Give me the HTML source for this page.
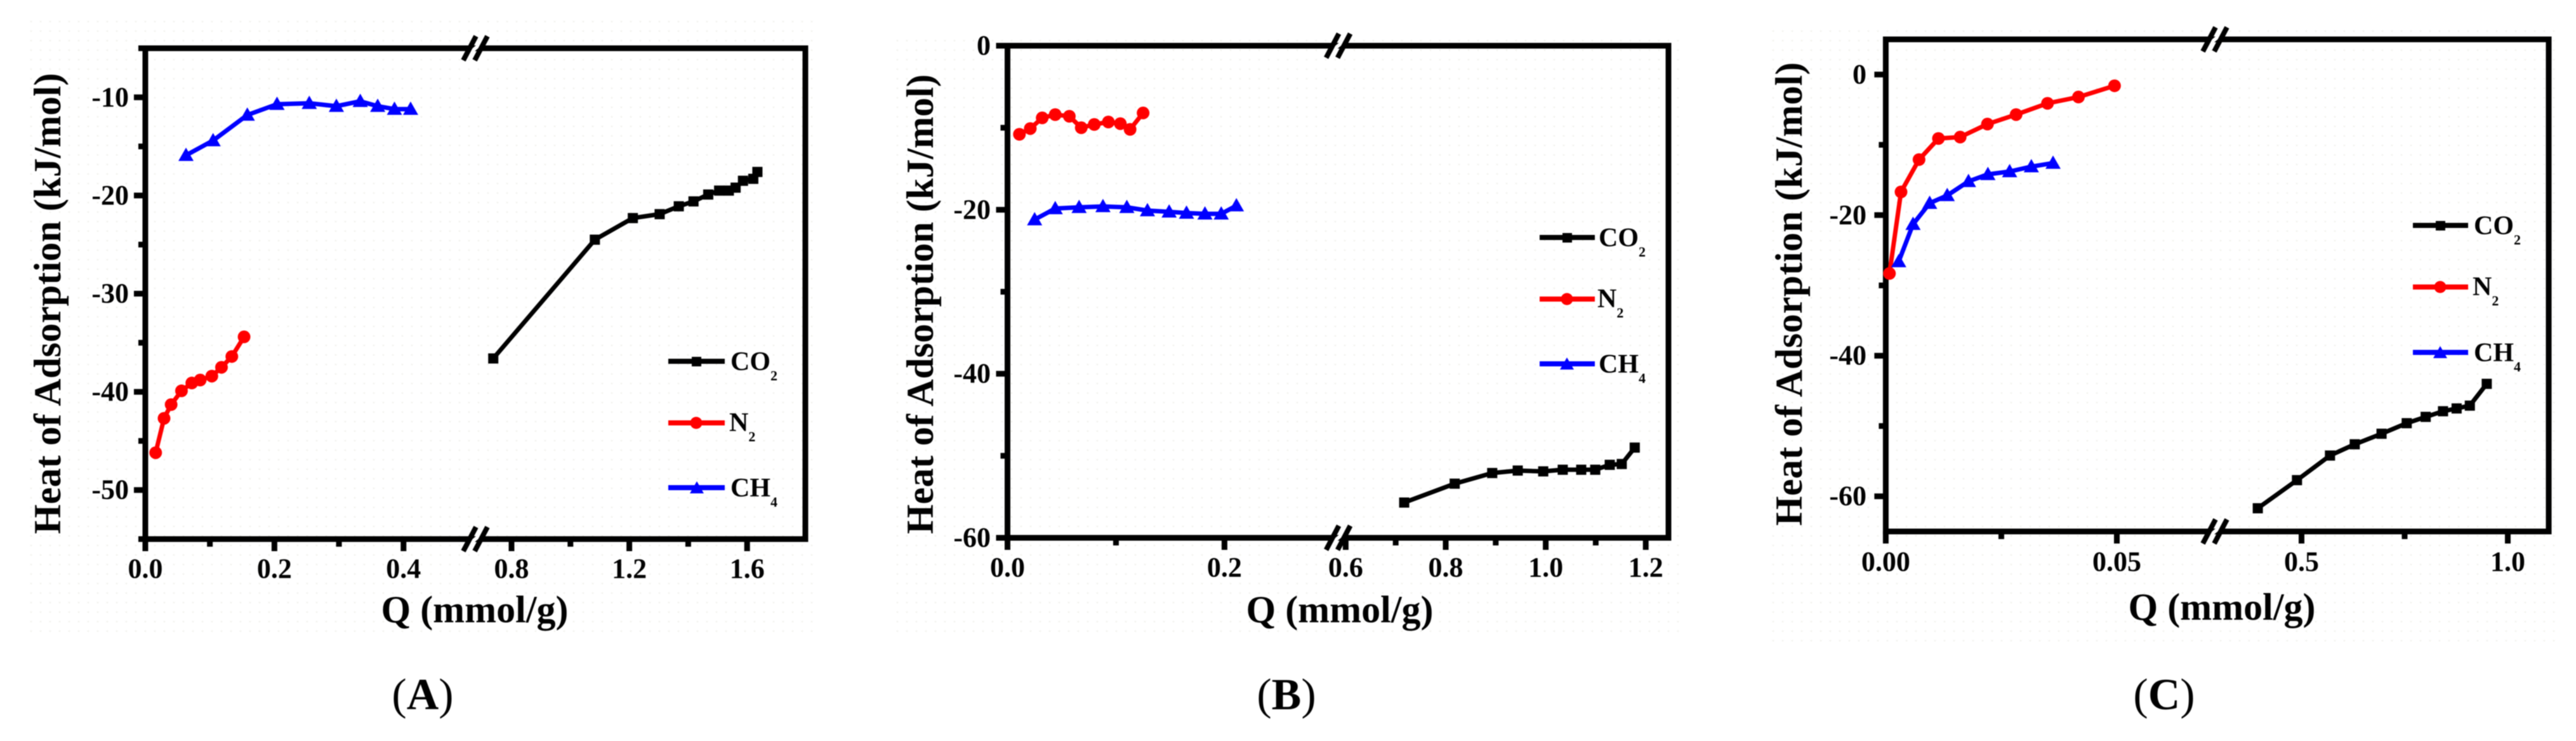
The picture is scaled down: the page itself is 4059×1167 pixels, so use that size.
<!DOCTYPE html>
<html lang="en">
<head>
<meta charset="utf-8">
<title>Heat of adsorption charts</title>
<style>
html,body{margin:0;padding:0;background:#fff;width:4059px;height:1167px;overflow:hidden}
svg{display:block;filter:blur(.7px)}
text{font-family:"Liberation Serif",serif;fill:#000}
.b{font-weight:bold}
.t{font-size:60px;font-weight:bold}
.l{font-size:42px;font-weight:bold}
.s{font-size:22px;font-weight:bold}
.c{font-size:70px}
</style>
</head>
<body>
<svg id="figure" xmlns="http://www.w3.org/2000/svg" width="4059" height="1167" viewBox="0 0 4059 1167">
<defs>
<pattern id="dots" width="15" height="15" patternUnits="userSpaceOnUse"><circle cx="4" cy="4" r="1.3" fill="#f1f1ec"/></pattern>
</defs>
<rect x="43" y="30" width="1247" height="968" fill="url(#dots)"/>
<rect x="1405" y="52" width="1245" height="946" fill="url(#dots)"/>
<rect x="2789" y="41" width="1244" height="972" fill="url(#dots)"/>

<g id="panel-a"></g>
<g id="panel-b"></g>
<g id="panel-c"></g>

<text class="t" transform="translate(95 841) rotate(-90)" textLength="726" lengthAdjust="spacing">Heat of Adsorption (kJ/mol)</text>
<text class="t" x="748" y="980" text-anchor="middle">Q (mmol/g)</text>
<text class="c" x="666" y="1117" text-anchor="middle">(<tspan class="b">A</tspan>)</text>

<text class="t" transform="translate(1470 841) rotate(-90)" textLength="724" lengthAdjust="spacing">Heat of Adsorption (kJ/mol)</text>
<text class="t" x="2111" y="980" text-anchor="middle">Q (mmol/g)</text>
<text class="c" x="2027" y="1117" text-anchor="middle">(<tspan class="b">B</tspan>)</text>

<text class="t" transform="translate(2839 828) rotate(-90)" textLength="730" lengthAdjust="spacing">Heat of Adsorption (kJ/mol)</text>
<text class="t" x="3501" y="976" text-anchor="middle">Q (mmol/g)</text>
<text class="c" x="3410" y="1117" text-anchor="middle">(<tspan class="b">C</tspan>)</text>

<g>
  <g>
    <line x1="1053" x2="1142" y1="569" y2="569" stroke="#000" stroke-width="8"/><rect x="1090" y="562" width="15" height="15" fill="#000"/>
    <text class="l" x="1151" y="583">CO<tspan class="s" dy="16">2</tspan></text>
  </g>
  <g>
    <line x1="1053" x2="1142" y1="666" y2="666" stroke="#f00" stroke-width="8"/><circle cx="1097" cy="666" r="9.5" fill="#f00"/>
    <text class="l" x="1149" y="679">N<tspan class="s" dy="16">2</tspan></text>
  </g>
  <g>
    <line x1="1053" x2="1142" y1="768" y2="768" stroke="#00f" stroke-width="8"/><polygon points="1098,758 1109,777 1087,777" fill="#00f"/>
    <text class="l" x="1151" y="782">CH<tspan class="s" dy="16">4</tspan></text>
  </g>
</g>
<g>
  <g>
    <line x1="2426" x2="2513" y1="374" y2="374" stroke="#000" stroke-width="8"/><rect x="2462" y="367" width="15" height="15" fill="#000"/>
    <text class="l" x="2519" y="388">CO<tspan class="s" dy="16">2</tspan></text>
  </g>
  <g>
    <line x1="2426" x2="2513" y1="471" y2="471" stroke="#f00" stroke-width="8"/><circle cx="2469" cy="471" r="9.5" fill="#f00"/>
    <text class="l" x="2517" y="484">N<tspan class="s" dy="16">2</tspan></text>
  </g>
  <g>
    <line x1="2426" x2="2513" y1="573" y2="573" stroke="#00f" stroke-width="8"/><polygon points="2469,563 2480,582 2458,582" fill="#00f"/>
    <text class="l" x="2519" y="587">CH<tspan class="s" dy="16">4</tspan></text>
  </g>
</g>
<g>
  <g>
    <line x1="3802" x2="3889" y1="355" y2="355" stroke="#000" stroke-width="8"/><rect x="3838" y="348" width="15" height="15" fill="#000"/>
    <text class="l" x="3898" y="369">CO<tspan class="s" dy="16">2</tspan></text>
  </g>
  <g>
    <line x1="3802" x2="3889" y1="452" y2="452" stroke="#f00" stroke-width="8"/><circle cx="3845" cy="452" r="9.5" fill="#f00"/>
    <text class="l" x="3896" y="465">N<tspan class="s" dy="16">2</tspan></text>
  </g>
  <g>
    <line x1="3802" x2="3889" y1="555" y2="555" stroke="#00f" stroke-width="8"/><polygon points="3845,545 3856,564 3834,564" fill="#00f"/>
    <text class="l" x="3898" y="569">CH<tspan class="s" dy="16">4</tspan></text>
  </g>
</g>
</svg>

<script>
// Panel A data
const aCo2Q = [0.738,1.083,1.212,1.303,1.368,1.418,1.468,1.505,1.538,1.561,1.586,1.621,1.635];
const aCo2Heat = [-36.6,-24.5,-22.3,-21.9,-21.1,-20.6,-19.9,-19.5,-19.5,-19.2,-18.5,-18.3,-17.6];
const aN2Q = [0.016,0.029,0.040,0.056,0.072,0.085,0.103,0.118,0.134,0.153];
const aN2Heat = [-46.2,-42.7,-41.3,-39.9,-39.1,-38.8,-38.4,-37.5,-36.4,-34.4];
const aCh4Q = [0.063,0.105,0.158,0.204,0.254,0.296,0.333,0.360,0.386,0.411];
const aCh4Heat = [-15.9,-14.4,-11.8,-10.7,-10.6,-10.9,-10.4,-10.9,-11.2,-11.2];
const aXMajor = [0,0.2,0.4,0.8,1.2,1.6];
const aXMajorLabels = ["0.0","0.2","0.4","0.8","1.2","1.6"];
const aXMinor = [0.1,0.3,1.0,1.4];
const aYMajor = [-10,-20,-30,-40,-50];
const aYMajorLabels = ["-10","-20","-30","-40","-50"];
const aYMinor = [-5,-15,-25,-35,-45,-55];

// Panel B data
const bCo2Q = [0.717,0.818,0.893,0.944,0.995,1.034,1.071,1.099,1.128,1.152,1.178];
const bCo2Heat = [-55.7,-53.4,-52.1,-51.8,-51.9,-51.7,-51.7,-51.7,-51.1,-51.0,-49.0];
const bN2Q = [0.011,0.021,0.032,0.044,0.057,0.068,0.080,0.093,0.104,0.113,0.125];
const bN2Heat = [-10.8,-10.1,-8.8,-8.4,-8.6,-10.0,-9.6,-9.3,-9.5,-10.2,-8.2];
const bCh4Q = [0.025,0.044,0.066,0.088,0.110,0.129,0.149,0.165,0.182,0.197,0.211];
const bCh4Heat = [-21.2,-19.85,-19.7,-19.6,-19.7,-20.1,-20.25,-20.4,-20.5,-20.5,-19.5];
const bXMajor = [0,0.2,0.6,0.8,1.0,1.2];
const bXMajorLabels = ["0.0","0.2","0.6","0.8","1.0","1.2"];
const bXMinor = [0.1,0.7,0.9,1.1];
const bYMajor = [0,-20,-40,-60];
const bYMajorLabels = ["0","-20","-40","-60"];
const bYMinor = [-10,-30,-50];

// Panel C data
const cCo2Q = [0.394,0.489,0.569,0.629,0.694,0.755,0.801,0.843,0.876,0.908,0.949];
const cCo2Heat = [-61.7,-57.7,-54.2,-52.6,-51.1,-49.6,-48.7,-47.9,-47.5,-47.1,-44.0];
const cN2Q = [0.0008,0.0033,0.0072,0.0114,0.0161,0.0220,0.0282,0.0350,0.0417,0.0495];
const cN2Heat = [-28.3,-16.7,-12.1,-9.1,-8.9,-7.05,-5.7,-4.1,-3.2,-1.6];
const cCh4Q = [0.0028,0.0059,0.0095,0.0133,0.0179,0.0221,0.0268,0.0315,0.0362];
const cCh4Heat = [-26.6,-21.3,-18.3,-17.2,-15.2,-14.2,-13.8,-13.1,-12.6];
const cXMajor = [0,0.05,0.5,1.0];
const cXMajorLabels = ["0.00","0.05","0.5","1.0"];
const cXMinor = [0.025,0.75];
const cYMajor = [0,-20,-40,-60];
const cYMajorLabels = ["0","-20","-40","-60"];
const cYMinor = [-10,-30,-50];

const NS = "http://www.w3.org/2000/svg";

function make(parent, tag, attrs) {
  const node = document.createElementNS(NS, tag);
  for (const key in attrs) node.setAttribute(key, attrs[key]);
  parent.appendChild(node);
  return node;
}

function xAxisFn(g) {
  return function (q) {
    if (q < g.split) return g.left + q * g.kLeft;
    return g.anchorX + (q - g.anchorQ) * g.kRight;
  };
}

function yAxisFn(g) {
  return function (v) {
    return g.bottom - (v - g.yMin) * (g.bottom - g.top) / (g.yMax - g.yMin);
  };
}

function drawFrame(root, g, prefix) {
  const frame = make(root, "rect", {x: g.left, y: g.top, width: g.right - g.left, height: g.bottom - g.top, fill: "none", stroke: "#000", "stroke-width": 9});
  
  
  [g.top, g.bottom].forEach(function (yy) {
    const gap = make(root, "polygon", {points: (g.breakX + 4) + "," + (yy - 7) + " " + (g.breakX + 13) + "," + (yy - 7) + " " + (g.breakX - 4) + "," + (yy + 7) + " " + (g.breakX - 13) + "," + (yy + 7), fill: "#fff"});
    
    
    [-9, 9].forEach(function (off) {
      const slash = make(root, "line", {x1: g.breakX + off + 10, y1: yy - 19, x2: g.breakX + off - 10, y2: yy + 19, stroke: "#000", "stroke-width": 8});
      
      
    });
  });
}

function drawTicks(root, g, prefix, xOf, yOf, xMajor, xLabels, xMinor, yMajor, yLabels, yMinor) {
  xMajor.forEach(function (q, i) {
    const tick = make(root, "line", {x1: xOf(q), x2: xOf(q), y1: g.bottom, y2: g.bottom + 19, stroke: "#000", "stroke-width": 9});
    
    
    const label = make(root, "text", {x: xOf(q) + (g.labelShift || 0), y: g.xLabelY, "text-anchor": "middle", "font-size": 44, "font-weight": "bold"});
    label.textContent = xLabels[i];
    
    
  });
  xMinor.forEach(function (q) {
    const tick = make(root, "line", {x1: xOf(q), x2: xOf(q), y1: g.bottom, y2: g.bottom + 12, stroke: "#000", "stroke-width": 9});
    
    
  });
  yMajor.forEach(function (v, i) {
    const tick = make(root, "line", {x1: g.left - 18, x2: g.left, y1: yOf(v), y2: yOf(v), stroke: "#000", "stroke-width": 9});
    
    
    const label = make(root, "text", {x: g.yLabelX, y: yOf(v) + 14, "text-anchor": "end", "font-size": 44, "font-weight": "bold"});
    label.textContent = yLabels[i];
    
    
  });
  yMinor.forEach(function (v) {
    const tick = make(root, "line", {x1: g.left - 11, x2: g.left, y1: yOf(v), y2: yOf(v), stroke: "#000", "stroke-width": 9});
    
    
  });
}

function drawSeries(root, prefix, seriesName, color, shape, qs, heats, xOf, yOf) {
  const pts = qs.map(function (q, i) { return xOf(q) + "," + yOf(heats[i]); }).join(" ");
  const line = make(root, "polyline", {points: pts, fill: "none", stroke: color, "stroke-width": 7, "stroke-linejoin": "round"});
  
  
  qs.forEach(function (q, i) {
    const px = xOf(q), py = yOf(heats[i]);
    let mark;
    if (shape === "square") {
      mark = make(root, "rect", {x: px - 8, y: py - 8, width: 16, height: 16, fill: color});
    } else if (shape === "circle") {
      mark = make(root, "circle", {cx: px, cy: py, r: 10, fill: color});
    } else {
      mark = make(root, "polygon", {points: px + "," + (py - 12) + " " + (px + 12) + "," + (py + 9) + " " + (px - 12) + "," + (py + 9), fill: color});
    }
    
    
  });
}

function drawPanel(id, prefix, g, d) {
  const root = document.getElementById(id);
  const xOf = xAxisFn(g);
  const yOf = yAxisFn(g);
  drawFrame(root, g, prefix);
  drawTicks(root, g, prefix, xOf, yOf, d.xMajor, d.xLabels, d.xMinor, d.yMajor, d.yLabels, d.yMinor);
  drawSeries(root, prefix, "co2", "#000", "square", d.co2Q, d.co2Heat, xOf, yOf);
  drawSeries(root, prefix, "n2", "#f00", "circle", d.n2Q, d.n2Heat, xOf, yOf);
  drawSeries(root, prefix, "ch4", "#00f", "triangle", d.ch4Q, d.ch4Heat, xOf, yOf);
}

drawPanel("panel-a", "panel-a",
  {left: 229, right: 1269, top: 76, bottom: 849, yMin: -55, yMax: -5, split: 0.6, kLeft: 1017, anchorX: 806, anchorQ: 0.8, kRight: 464, breakX: 749, xLabelY: 910, yLabelX: 203},
  {xMajor: aXMajor, xLabels: aXMajorLabels, xMinor: aXMinor, yMajor: aYMajor, yLabels: aYMajorLabels, yMinor: aYMinor,
   co2Q: aCo2Q, co2Heat: aCo2Heat, n2Q: aN2Q, n2Heat: aN2Heat, ch4Q: aCh4Q, ch4Heat: aCh4Heat});

drawPanel("panel-b", "panel-b",
  {left: 1587.5, right: 2629, top: 72, bottom: 847, yMin: -60, yMax: 0, split: 0.5, kLeft: 1709.5, anchorX: 2278, anchorQ: 0.8, kRight: 788, breakX: 2108.6, xLabelY: 908, yLabelX: 1561},
  {xMajor: bXMajor, xLabels: bXMajorLabels, xMinor: bXMinor, yMajor: bYMajor, yLabels: bYMajorLabels, yMinor: bYMinor,
   co2Q: bCo2Q, co2Heat: bCo2Heat, n2Q: bN2Q, n2Heat: bN2Heat, ch4Q: bCh4Q, ch4Heat: bCh4Heat});

drawPanel("panel-c", "panel-c",
  {left: 2971.4, right: 4016, top: 62, bottom: 837, yMin: -65, yMax: 5, split: 0.2, kLeft: 7282, anchorX: 3626.5, anchorQ: 0.5, kRight: 650, breakX: 3490, xLabelY: 899, yLabelX: 2941},
  {xMajor: cXMajor, xLabels: cXMajorLabels, xMinor: cXMinor, yMajor: cYMajor, yLabels: cYMajorLabels, yMinor: cYMinor,
   co2Q: cCo2Q, co2Heat: cCo2Heat, n2Q: cN2Q, n2Heat: cN2Heat, ch4Q: cCh4Q, ch4Heat: cCh4Heat});
</script>
</body>
</html>
